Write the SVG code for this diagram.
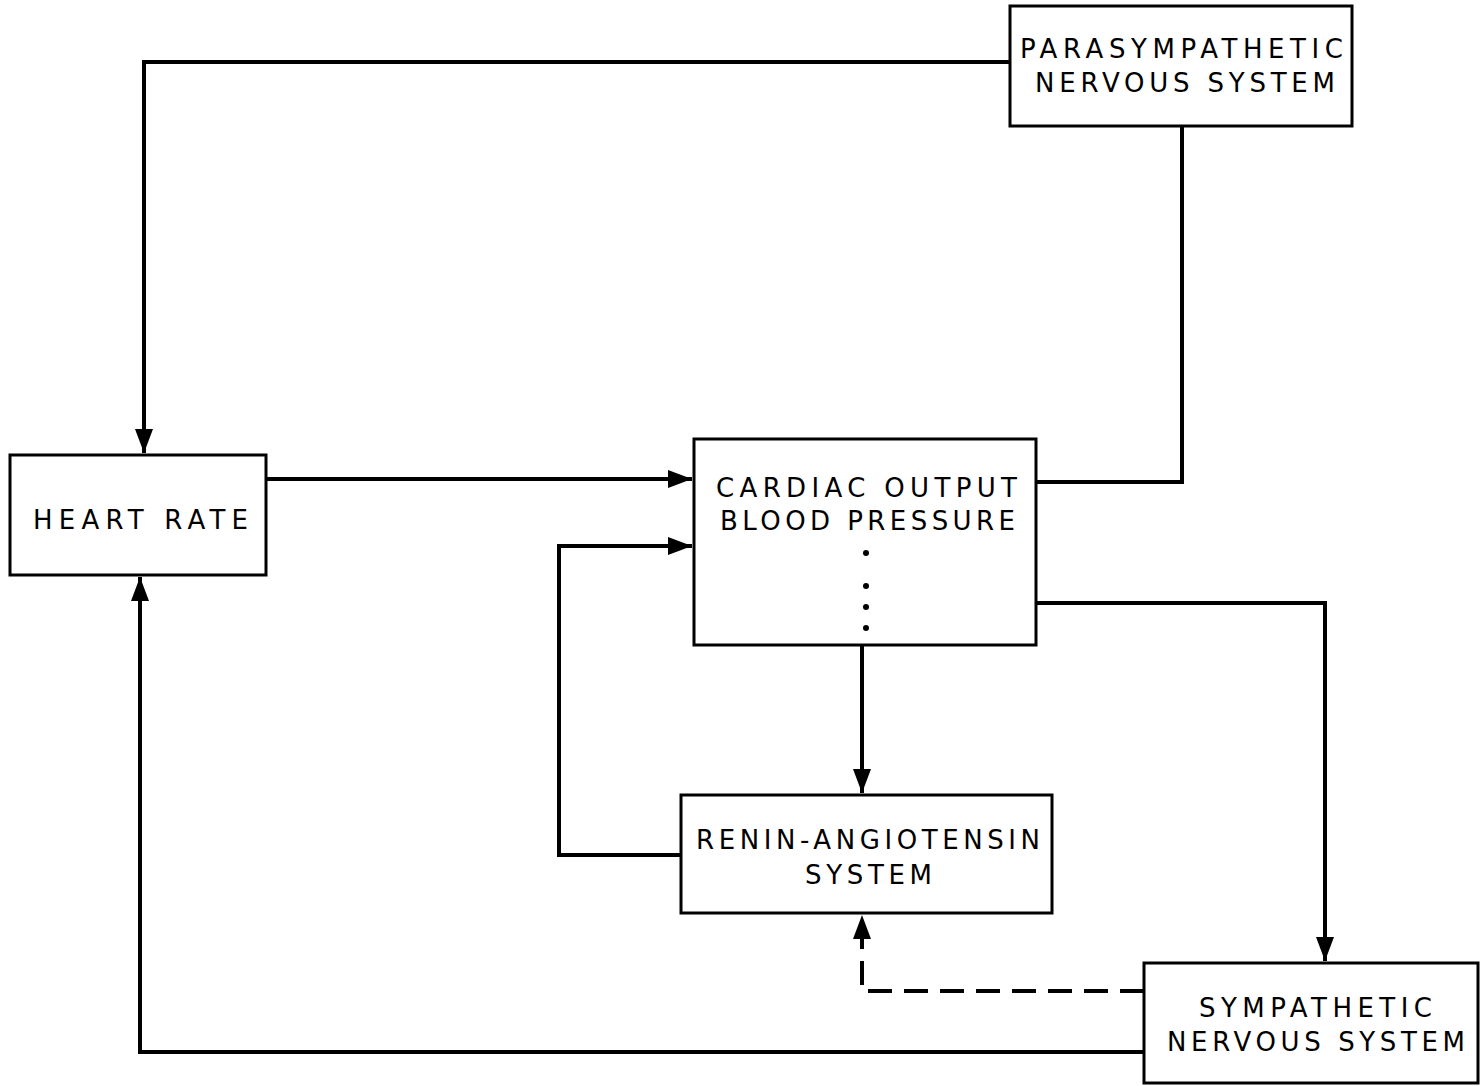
<svg xmlns="http://www.w3.org/2000/svg" width="1480" height="1086" viewBox="0 0 1480 1086">
<style>
.box{fill:#fff;stroke:#000;stroke-width:3}
.t{font-family:"DejaVu Sans","Liberation Sans",sans-serif;font-size:26px;fill:#000;text-anchor:start}
.c{fill:none;stroke:#000;stroke-width:4}
.d{fill:none;stroke:#000;stroke-width:4;stroke-dasharray:24 12}
</style>
<defs>
<marker id="ah" viewBox="0 0 24 18" refX="24" refY="9" markerWidth="24" markerHeight="18" markerUnits="userSpaceOnUse" orient="auto">
<path d="M0,0 L24,9 L0,18 z" fill="#000"/>
</marker>
</defs>
<rect width="1480" height="1086" fill="#fff"/>
<g id="connectors">
<path class="c" d="M1010,62 H144 V453" marker-end="url(#ah)"/>
<path class="c" d="M1182,126 V482 H1036"/>
<path class="c" d="M266,479 H692" marker-end="url(#ah)"/>
<path class="c" d="M681,855 H559 V546 H692" marker-end="url(#ah)"/>
<path class="c" d="M862,645 V793" marker-end="url(#ah)"/>
<path class="c" d="M1036,603 H1325 V961" marker-end="url(#ah)"/>
<path class="d" d="M1144,991 H862 V915" marker-end="url(#ah)"/>
<path class="c" d="M1144,1052 H140 V577" marker-end="url(#ah)"/>
</g>
<g id="parasympathetic">
<rect class="box" x="1010" y="6" width="342" height="120"/>
<text class="t" x="1020" y="58" textLength="323" lengthAdjust="spacing">PARASYMPATHETIC</text>
<text class="t" x="1035" y="92" textLength="300" lengthAdjust="spacing">NERVOUS SYSTEM</text>
</g>
<g id="heart-rate">
<rect class="box" x="10" y="455" width="256" height="120"/>
<text class="t" x="33" y="529" textLength="215" lengthAdjust="spacing">HEART RATE</text>
</g>
<g id="cardiac-output">
<rect class="box" x="694" y="439" width="342" height="206"/>
<text class="t" x="716" y="497" textLength="301" lengthAdjust="spacing">CARDIAC OUTPUT</text>
<text class="t" x="720" y="530" textLength="295" lengthAdjust="spacing">BLOOD PRESSURE</text>
<circle cx="866" cy="553" r="3"/>
<circle cx="866" cy="586" r="3"/>
<circle cx="866" cy="607" r="3"/>
<circle cx="866" cy="628" r="3"/>
</g>
<g id="renin-angiotensin">
<rect class="box" x="681" y="795" width="371" height="118"/>
<text class="t" x="696" y="849" textLength="344" lengthAdjust="spacing">RENIN-ANGIOTENSIN</text>
<text class="t" x="805" y="884" textLength="127" lengthAdjust="spacing">SYSTEM</text>
</g>
<g id="sympathetic">
<rect class="box" x="1144" y="963" width="334" height="120"/>
<text class="t" x="1199" y="1017" textLength="233" lengthAdjust="spacing">SYMPATHETIC</text>
<text class="t" x="1167" y="1051" textLength="298" lengthAdjust="spacing">NERVOUS SYSTEM</text>
</g>
</svg>
